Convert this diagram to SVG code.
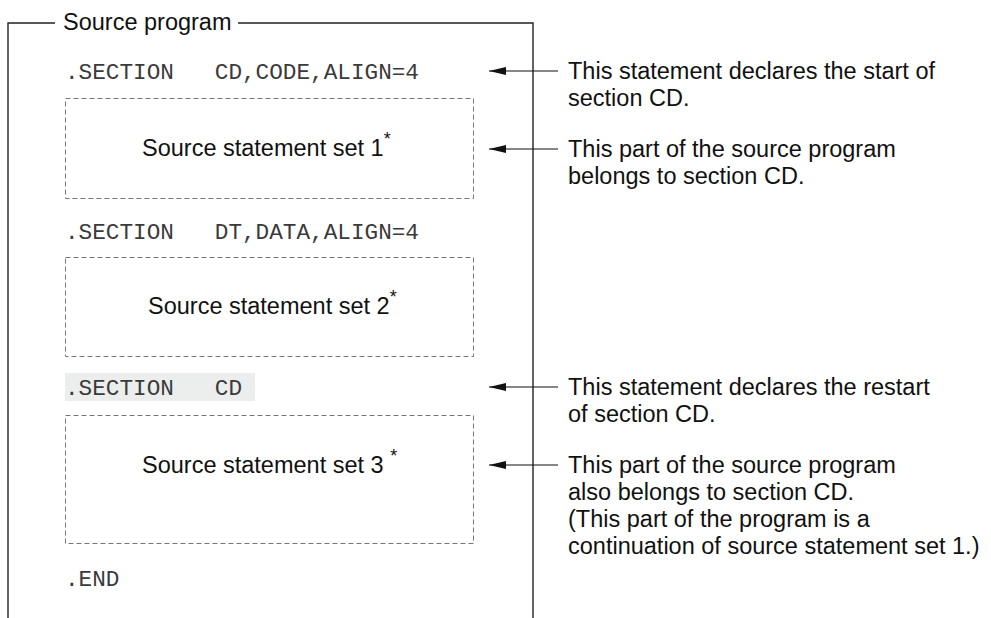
<svg xmlns="http://www.w3.org/2000/svg" width="991" height="618" viewBox="0 0 991 618">
  <defs>
    <style>
      .frame { fill: none; stroke: #222; stroke-width: 1.4; }
      .dash { fill: none; stroke: #777; stroke-width: 1; stroke-dasharray: 5 3; }
      .sans { font-family: "Liberation Sans", Arial, sans-serif; font-size: 23.5px; fill: #111; }
      .mono { font-family: "Liberation Mono", "Courier New", monospace; font-size: 22.7px; fill: #3a3a3a; }
      .sup { font-size: 18px; }
      .conn { stroke: #111; stroke-width: 1.2; fill: none; }
    </style>
    <marker id="arrow" viewBox="0 0 17 8" refX="17" refY="4" markerWidth="17" markerHeight="8" markerUnits="userSpaceOnUse" orient="auto">
      <path d="M0,0 L17,4 L0,8 Z" fill="#111"/>
    </marker>
  </defs>

  <g id="frame">
    <path class="frame" d="M8,618 L8,23 L55,23 M238,23 L533,23 L533,618"/>
    <text class="sans" x="63" y="30">Source program</text>
  </g>

  <g id="stmt-section-cd">
    <text class="mono" x="65" y="79" xml:space="preserve">.SECTION   CD,CODE,ALIGN=4</text>
  </g>
  <g id="set1">
    <rect class="dash" x="65.5" y="98.5" width="408" height="100"/>
    <text class="sans" x="142" y="156">Source statement set 1<tspan class="sup" dy="-11">*</tspan></text>
  </g>
  <g id="stmt-section-dt">
    <text class="mono" x="65" y="239" xml:space="preserve">.SECTION   DT,DATA,ALIGN=4</text>
  </g>
  <g id="set2">
    <rect class="dash" x="65.5" y="257.5" width="408" height="99"/>
    <text class="sans" x="148" y="314">Source statement set 2<tspan class="sup" dy="-11">*</tspan></text>
  </g>
  <g id="stmt-section-cd2">
    <rect x="65" y="373" width="190" height="28" fill="#eceeee"/>
    <text class="mono" x="65" y="395" xml:space="preserve">.SECTION   CD</text>
  </g>
  <g id="set3">
    <rect class="dash" x="65.5" y="415.5" width="408" height="128"/>
    <text class="sans" x="142" y="473" xml:space="preserve">Source statement set 3 <tspan class="sup" dy="-11">*</tspan></text>
  </g>
  <g id="stmt-end">
    <text class="mono" x="65" y="586">.END</text>
  </g>

  <g id="connectors">
    <line class="conn" x1="558" y1="71" x2="489" y2="71" marker-end="url(#arrow)"/>
    <line class="conn" x1="558" y1="149" x2="489" y2="149" marker-end="url(#arrow)"/>
    <line class="conn" x1="558" y1="387" x2="489" y2="387" marker-end="url(#arrow)"/>
    <line class="conn" x1="558" y1="465" x2="489" y2="465" marker-end="url(#arrow)"/>
  </g>

  <g id="note1">
    <text class="sans" x="568" y="79">This statement declares the start of</text>
    <text class="sans" x="568" y="106">section CD.</text>
  </g>
  <g id="note2">
    <text class="sans" x="568" y="157">This part of the source program</text>
    <text class="sans" x="568" y="184">belongs to section CD.</text>
  </g>
  <g id="note3">
    <text class="sans" x="568" y="395">This statement declares the restart</text>
    <text class="sans" x="568" y="422">of section CD.</text>
  </g>
  <g id="note4">
    <text class="sans" x="568" y="473">This part of the source program</text>
    <text class="sans" x="568" y="500">also belongs to section CD.</text>
    <text class="sans" x="568" y="527">(This part of the program is a</text>
    <text class="sans" x="568" y="554">continuation of source statement set 1.)</text>
  </g>
</svg>
